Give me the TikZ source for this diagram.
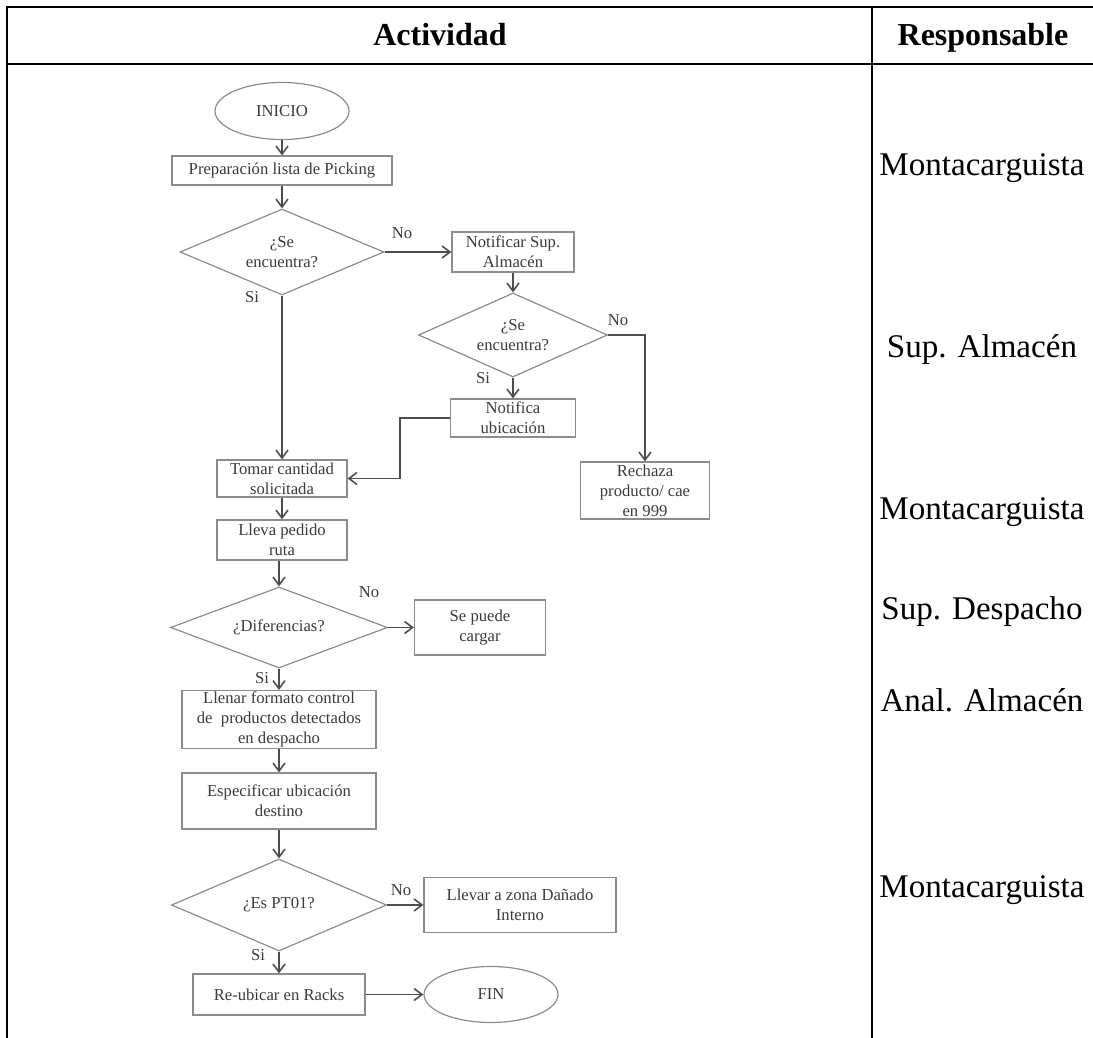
\documentclass[tikz,border=0pt]{standalone}
\usepackage{fontspec}
\setmainfont{Liberation Serif}
\usetikzlibrary{arrows.meta,shapes.geometric}
\definecolor{flowline}{HTML}{4d4d4d}
\definecolor{boxline}{HTML}{8c8c8c}
\definecolor{flowtext}{HTML}{3a3a3a}

\begin{document}
\begin{tikzpicture}[x=0.75pt,y=-0.75pt,
  frame/.style={black,line width=2.2pt},
  head/.style={anchor=base,font=\fontsize{24}{28}\selectfont\bfseries},
  proc/.style={draw=boxline,line width=0.9pt,text=flowtext,align=center,inner sep=1pt,font=\fontsize{12.5}{15}\selectfont},
  dec/.style={diamond,aspect=2.4,draw=boxline,line width=0.9pt,text=flowtext,align=center,inner sep=0pt,font=\fontsize{12.5}{15}\selectfont},
  term/.style={ellipse,draw=boxline,line width=0.9pt,text=flowtext,inner sep=0pt,font=\fontsize{12.5}{15}\selectfont},
  flow/.style={flowline,line width=1.2pt,-{Straight Barb[length=6pt,width=9pt]}},
  lab/.style={text=flowtext,inner sep=0pt,font=\fontsize{12.5}{15}\selectfont},
  resp/.style={font=\fontsize{24.8}{28}\selectfont}]
  \useasboundingbox (0,0) rectangle (1093,1038);
  % table
  \draw[frame] (7,1038) -- (7,7) -- (1093,7);
  \draw[frame] (7,64) -- (1093,64);
  \draw[frame] (872,7) -- (872,1038);
  \node[head] (hact) at (440,46) {Actividad};
  \node[head] (hresp) at (983,46) {Responsable};
  % responsables
  \foreach \i/\y/\n in {1/168/Montacarguista, 2/350/Sup. Almacén, 3/512/Montacarguista,
                        4/612/Sup. Despacho, 5/700/Anal. Almacén, 6/890/Montacarguista}
    \node[resp] (resp\i) at (982,\y) {\n};
  % flowchart
  \node[term,minimum width=100.5pt,minimum height=42.75pt] (inicio) at (282,111) {INICIO};
  \node[proc,minimum width=165pt,minimum height=21.75pt] (prep) at (282,170.5) {Preparación lista de Picking};
  \node[dec,minimum width=153pt,minimum height=64.5pt] (d1) at (282,252) {¿Se\\encuentra?};
  \node[proc,minimum width=91.5pt,minimum height=30pt] (nsup) at (513,252) {Notificar Sup.\\Almacén};
  \node[dec,minimum width=141.75pt,minimum height=63pt] (d2) at (513,335) {¿Se\\encuentra?};
  \node[proc,minimum width=93.75pt,minimum height=28.5pt] (nubi) at (513,418) {Notifica\\ubicación};
  \node[proc,minimum width=97.5pt,minimum height=27.75pt] (tomar) at (282,478.5) {Tomar cantidad\\solicitada};
  \node[proc,minimum width=96.75pt,minimum height=42.75pt] (rech) at (645,490.5) {Rechaza\\producto/ cae\\en 999};
  \node[proc,minimum width=97.5pt,minimum height=30pt] (lleva) at (282,540) {Lleva pedido\\ruta};
  \node[dec,minimum width=162.75pt,minimum height=60.75pt] (d3) at (279,627.5) {¿Diferencias?};
  \node[proc,minimum width=98.25pt,minimum height=41.25pt] (carg) at (480,627.5) {Se puede\\cargar};
  \node[proc,minimum width=145.5pt,minimum height=41.25pt] (llenar) at (279,719.5) {Llenar formato control\\de\ \ productos detectados\\en despacho};
  \node[proc,minimum width=145.5pt,minimum height=42pt] (espec) at (279,801) {Especificar ubicación\\destino};
  \node[dec,minimum width=161.25pt,minimum height=69pt] (d4) at (279,905) {¿Es PT01?};
  \node[proc,minimum width=144pt,minimum height=41.25pt] (dan) at (520,905) {Llevar a zona Dañado\\Interno};
  \node[proc,minimum width=129pt,minimum height=30.75pt] (reub) at (279,994.5) {Re-ubicar en Racks};
  \node[term,minimum width=100.5pt,minimum height=42pt] (fin) at (491,994.5) {FIN};
  % connectors
  \draw[flow] (inicio) -- (prep);
  \draw[flow] (prep) -- (d1);
  \draw[flow] (d1.east) -- (nsup.west);
  \draw[flow] (d1.south) -- (tomar.north);
  \draw[flow] (nsup) -- (d2);
  \draw[flow] (d2.east) -| (rech.north);
  \draw[flow] (d2) -- (nubi);
  \draw[flow] (nubi.west) -- ++(-50,0) |- (tomar.east);
  \draw[flow] (tomar) -- (lleva);
  \draw[flow] (lleva.south -| d3.north) -- (d3.north);
  \draw[flow] (d3.east) -- (carg.west);
  \draw[flow] (d3) -- (llenar);
  \draw[flow] (llenar) -- (espec);
  \draw[flow] (espec) -- (d4);
  \draw[flow] (d4.east) -- (dan.west);
  \draw[flow] (d4) -- (reub);
  \draw[flow] (reub) -- (fin);
  % branch labels
  \node[lab] (no1) at (402,233) {No};
  \node[lab] (si1) at (252,297) {Si};
  \node[lab] (no2) at (618,320) {No};
  \node[lab] (si2) at (483,378) {Si};
  \node[lab] (no3) at (369,592) {No};
  \node[lab] (si3) at (262,678) {Si};
  \node[lab] (no4) at (401,890) {No};
  \node[lab] (si4) at (258,955) {Si};
\end{tikzpicture}
\end{document}
